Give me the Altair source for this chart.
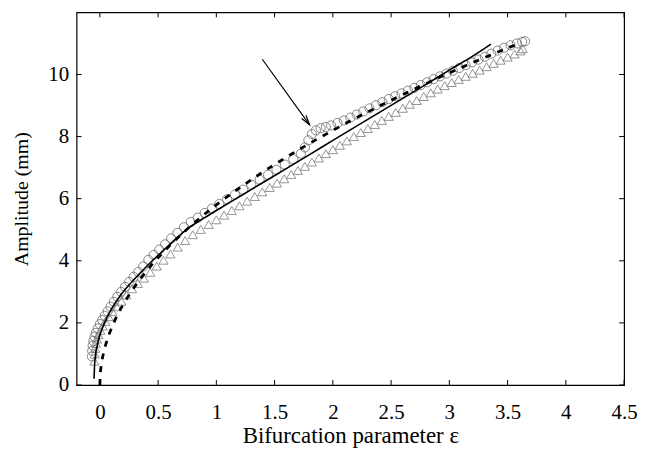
import altair as alt
import pandas as pd

# ---- data ----
circ_e = [-0.068, -0.066, -0.062, -0.056, -0.046, -0.034, -0.018, 0.000, 0.020, 0.042,
          0.066, 0.092, 0.120, 0.150, 0.182, 0.216, 0.252, 0.290, 0.330, 0.372,
          0.416, 0.462, 0.510, 0.560, 0.612, 0.666, 0.722, 0.780, 0.840, 0.900,
          0.962, 1.026, 1.092, 1.160, 1.230, 1.300, 1.372, 1.444, 1.516, 1.588,
          1.660, 1.725, 1.760, 1.790, 1.820, 1.855, 1.895, 1.940, 1.985, 2.040,
          2.095, 2.150, 2.205, 2.260, 2.315, 2.370, 2.425, 2.480, 2.535, 2.590,
          2.645, 2.700, 2.755, 2.810, 2.865, 2.920, 2.975, 3.030, 3.085, 3.140,
          3.195, 3.250, 3.305, 3.360, 3.415, 3.470, 3.525, 3.580, 3.625, 3.650]
circ_a = [0.92, 1.10, 1.27, 1.42, 1.56, 1.68, 1.82, 1.96, 2.09, 2.23,
          2.37, 2.52, 2.68, 2.84, 3.00, 3.16, 3.32, 3.48, 3.64, 3.82,
          4.03, 4.19, 4.36, 4.53, 4.72, 4.90, 5.08, 5.25, 5.39, 5.54,
          5.68, 5.83, 5.98, 6.13, 6.29, 6.45, 6.61, 6.77, 6.93, 7.10,
          7.27, 7.45, 7.65, 7.88, 8.08, 8.20, 8.27, 8.31, 8.36, 8.44,
          8.52, 8.61, 8.71, 8.81, 8.91, 9.01, 9.11, 9.21, 9.30, 9.39,
          9.48, 9.57, 9.66, 9.75, 9.85, 9.94, 10.03, 10.12, 10.21, 10.30,
          10.39, 10.48, 10.57, 10.67, 10.77, 10.86, 10.94, 11.00, 11.05, 11.07]

tri_e = [-0.047, -0.044, -0.040, -0.034, -0.025, -0.012, 0.004, 0.024, 0.048, 0.076,
         0.108, 0.144, 0.184, 0.228, 0.276, 0.326, 0.378, 0.432, 0.488, 0.546,
         0.606, 0.668, 0.732, 0.798, 0.866, 0.934, 1.000, 1.066, 1.132, 1.198,
         1.264, 1.330, 1.394, 1.458, 1.520, 1.582, 1.642, 1.700, 1.760, 1.820,
         1.880, 1.940, 2.000, 2.060, 2.120, 2.180, 2.240, 2.300, 2.360, 2.420,
         2.480, 2.540, 2.600, 2.660, 2.720, 2.780, 2.840, 2.900, 2.960, 3.020,
         3.080, 3.140, 3.200, 3.260, 3.320, 3.380, 3.440, 3.500, 3.560, 3.610, 3.630]
tri_a = [0.77, 1.00, 1.18, 1.34, 1.48, 1.62, 1.76, 1.90, 2.05, 2.20,
         2.36, 2.52, 2.70, 2.90, 3.10, 3.27, 3.44, 3.63, 3.83, 4.02,
         4.22, 4.44, 4.65, 4.84, 5.01, 5.17, 5.32, 5.47, 5.62, 5.77,
         5.92, 6.07, 6.22, 6.36, 6.50, 6.64, 6.78, 6.91, 7.04, 7.18,
         7.31, 7.45, 7.58, 7.72, 7.86, 8.00, 8.13, 8.26, 8.39, 8.52,
         8.65, 8.78, 8.91, 9.04, 9.16, 9.29, 9.41, 9.53, 9.64, 9.74,
         9.84, 9.94, 10.04, 10.14, 10.25, 10.36, 10.46, 10.56, 10.66, 10.76, 10.83]

sol_e = [-0.050, -0.046, -0.038, -0.020, 0.000, 0.040, 0.100, 0.170, 0.250, 0.350,
         0.450, 0.550, 0.650, 0.760, 0.900, 1.000, 1.200, 1.400, 1.600, 1.800,
         2.000, 2.200, 2.400, 2.600, 2.800, 3.000, 3.200, 3.357]
sol_a = [0.20, 0.60, 0.95, 1.30, 1.60, 2.00, 2.45, 2.85, 3.22, 3.62,
         4.00, 4.35, 4.70, 5.05, 5.39, 5.62, 6.07, 6.52, 6.97, 7.42,
         7.88, 8.33, 8.78, 9.23, 9.68, 10.14, 10.59, 10.98]

dash_e = [0.000, 0.003, 0.010, 0.020, 0.035, 0.055, 0.080, 0.110, 0.150, 0.200,
          0.270, 0.350, 0.450, 0.600, 0.800, 1.000, 1.250, 1.500, 1.750, 2.000,
          2.250, 2.500, 2.750, 3.000, 3.250, 3.500, 3.600]
dash_a = [0.00, 0.32, 0.58, 0.82, 1.09, 1.36, 1.64, 1.92, 2.25, 2.59,
          3.01, 3.43, 3.89, 4.49, 5.19, 5.80, 6.48, 7.10, 7.67, 8.20,
          8.70, 9.17, 9.62, 10.05, 10.46, 10.85, 11.00]

arrow_from = [1.394, 10.49]
arrow_to = [1.800, 8.38]

x_ticks = [0, 0.5, 1, 1.5, 2, 2.5, 3, 3.5, 4, 4.5]
y_ticks = [0, 2, 4, 6, 8, 10]

# ---- chart ----
W, H = 551, 375
FONT = "'Liberation Serif', 'Times New Roman', Times, serif"
TL = 5  # inward tick length

xs = alt.Scale(domain=[-0.2, 4.5], nice=False, zero=False)
ys = alt.Scale(domain=[0, 12], nice=False, zero=False)

xaxis = alt.Axis(title="Bifurcation parameter ε", values=x_ticks, format=".1~f",
                 ticks=False, tickSize=0, domain=False, grid=False,
                 labelFont=FONT, labelFontSize=21, labelColor="black",
                 labelPadding=17, labelFlush=False, labelOverlap=False,
                 titleFont=FONT, titleFontSize=23, titleFontWeight="normal",
                 titleColor="black", titleX=W / 2, titleY=51,
                 titleBaseline="middle", titleAlign="center")
yaxis = alt.Axis(title="Amplitude (mm)", values=y_ticks, format="d",
                 ticks=False, tickSize=0, domain=False, grid=False,
                 labelFont=FONT, labelFontSize=21, labelColor="black",
                 labelPadding=8, labelFlush=False, labelOverlap=False,
                 titleFont=FONT, titleFontSize=20, titleFontWeight="normal",
                 titleColor="black", titleX=-55, titleY=H / 2, titleAngle=270,
                 titleBaseline="middle", titleAlign="center")

X = alt.X("x:Q", scale=xs, axis=xaxis)
Y = alt.Y("y:Q", scale=ys, axis=yaxis)

df_c = pd.DataFrame({"x": circ_e, "y": circ_a})
df_t = pd.DataFrame({"x": tri_e, "y": tri_a})
df_s = pd.DataFrame({"x": sol_e, "y": sol_a})
df_d = pd.DataFrame({"x": dash_e, "y": dash_a})
df_arrow = pd.DataFrame({"x": [arrow_from[0]], "y": [arrow_from[1]],
                         "x2": [arrow_to[0]], "y2": [arrow_to[1]]})
df_tip = pd.DataFrame({"x": [arrow_to[0]], "y": [arrow_to[1]]})
df_xt = pd.DataFrame({"x": x_ticks})
df_yt = pd.DataFrame({"y": y_ticks})

tri = alt.Chart(df_t).mark_point(shape="triangle-up", filled=False, size=85,
                                 color="#7a7a7a", strokeWidth=0.8, opacity=1
                                 ).encode(x=X, y=Y)
circ = alt.Chart(df_c).mark_point(shape="circle", filled=False, size=85,
                                  color="#6a6a6a", strokeWidth=0.8, opacity=1
                                  ).encode(x=X, y=Y)
sol = alt.Chart(df_s).mark_line(color="black", strokeWidth=1.6,
                                interpolate="monotone").encode(x=X, y=Y)
dash = alt.Chart(df_d).mark_line(color="black", strokeWidth=2.8, strokeDash=[6, 7],
                                 interpolate="monotone").encode(x=X, y=Y)
arrow_line = alt.Chart(df_arrow).mark_rule(color="black", strokeWidth=1.2).encode(
    x=X, y=Y, x2="x2:Q", y2="y2:Q")
arrow_head = alt.Chart(df_tip).mark_point(
    shape="M-0.28,1L0,0L0.28,1", filled=False, size=380, angle=144,
    color="black", strokeWidth=1.2, opacity=1).encode(x=X, y=Y)

tick_b = alt.Chart(df_xt).mark_rule(color="black", strokeWidth=1).encode(
    x=X, y=alt.value(H), y2=alt.value(H - TL))
tick_t = alt.Chart(df_xt).mark_rule(color="black", strokeWidth=1).encode(
    x=X, y=alt.value(0), y2=alt.value(TL))
tick_l = alt.Chart(df_yt).mark_rule(color="black", strokeWidth=1).encode(
    y=Y, x=alt.value(0), x2=alt.value(TL))
tick_r = alt.Chart(df_yt).mark_rule(color="black", strokeWidth=1).encode(
    y=Y, x=alt.value(W), x2=alt.value(W - TL))

chart = alt.layer(tri, circ, sol, dash, arrow_line, arrow_head,
                  tick_b, tick_t, tick_l, tick_r).properties(
    width=W, height=H,
    autosize=alt.AutoSizeParams(type="none"),
    padding={"left": 69, "top": 3, "right": 14, "bottom": 64},
    background="white",
).configure_view(stroke="black", strokeWidth=1.2)

chart.save("out.html", embed_options={"renderer": "svg", "actions": False})
